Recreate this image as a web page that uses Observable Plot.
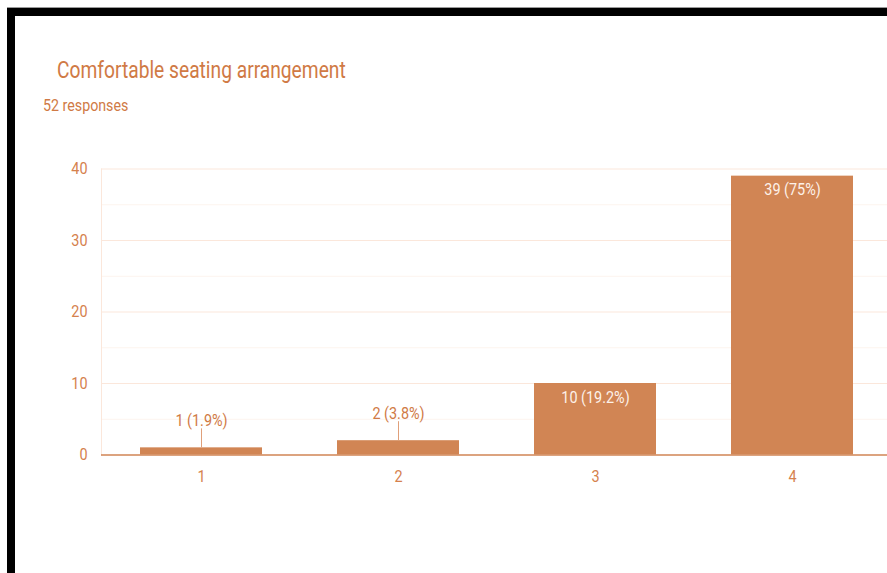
<!DOCTYPE html>
<html>
<head>
<meta charset="utf-8">
<script src="https://cdn.jsdelivr.net/npm/d3@7"></script>
<script src="https://cdn.jsdelivr.net/npm/@observablehq/plot@0.6"></script>
<style>
  html, body { margin: 0; padding: 0; background: #ffffff; overflow: hidden; }
  #wrap { position: relative; width: 887px; height: 573px; overflow: hidden; background: #fff; font-family: Roboto, sans-serif; }
  #wrap svg { position: absolute; left: 0; top: 0; }
  .band { position: absolute; background: #000; }
  .txt { position: absolute; white-space: nowrap; transform-origin: left center; line-height: 1; }
  #title { left: 57px; top: 58.6px; font-size: 23px; color: #d07a45; transform: scaleX(0.835); }
  #subtitle { left: 43px; top: 98.3px; font-size: 16px; color: #d07a45; transform: scaleX(0.89); }
</style>
</head>
<body>
<div id="wrap">
  <div class="band" style="left:7px; top:8px; width:880px; height:8px;"></div>
  <div class="band" style="left:7px; top:8px; width:8px; height:565px;"></div>
  <div class="band" style="left:7px; top:7px; width:880px; height:1px; background:#9a9a9a;"></div>
  <div id="title" class="txt">Comfortable seating arrangement</div>
  <div id="subtitle" class="txt">52 responses</div>
</div>
<script>
const categories = ["1", "2", "3", "4"];
const counts = [1, 2, 10, 39];
const percents = ["1.9%", "3.8%", "19.2%", "75%"];
const yTicks = [0, 10, 20, 30, 40];
const yMinor = [5, 15, 25, 35];

const barColor = "#d18554";
const textColor = "#d07a45";
const tickColor = "#d5814d";
const gridMajor = "#fbe7db";
const gridMinor = "#fdf4ee";
const insideText = "#fdf1e9";
const leaderColor = "#e0a07a";

const data = categories.map((c, i) => ({
  cat: c,
  count: counts[i],
  label: `${counts[i]} (${percents[i]})`
}));

const yTop = 168.5, yBottom = 454.5;
const pxPerUnit = (yBottom - yTop) / 40;
const leaderPx = 19;
const isInside = d => d.count * pxPerUnit > 40;

const chart = Plot.plot({
  width: 887,
  height: 573,
  marginLeft: 101,
  marginRight: 0,
  marginTop: yTop,
  marginBottom: 573 - yBottom,
  style: { fontFamily: "Roboto, sans-serif", fontSize: "16px", background: "transparent", overflow: "visible" },
  x: { domain: categories, range: [102.5, 890.5], paddingInner: 0.38, paddingOuter: 0.19 },
  y: { domain: [0, 40], range: [yBottom, yTop] },
  marks: [
    Plot.ruleY(yMinor, { stroke: gridMinor }),
    Plot.ruleY(yTicks.slice(1), { stroke: gridMajor }),
    Plot.frame({ anchor: "left", stroke: gridMajor }),
    Plot.barY(data, { x: "cat", y: "count", fill: barColor }),
    Plot.ruleY([0], { stroke: barColor, strokeWidth: 1.6 }),
    Plot.ruleX(data.filter(d => !isInside(d)), {
      x: "cat", y1: "count", y2: d => d.count + leaderPx / pxPerUnit, stroke: leaderColor
    }),
    Plot.text(data.filter(d => !isInside(d)), {
      x: "cat", y: "count", text: "label", fill: textColor, dy: -26.5, fontSize: 16
    }),
    Plot.text(data.filter(isInside), {
      x: "cat", y: "count", text: "label", fill: insideText, dy: 14, fontSize: 16
    }),
    Plot.axisY({ ticks: yTicks, tickSize: 0, tickPadding: 14, label: null, fill: tickColor, fontSize: 16 }),
    Plot.axisX({ tickSize: 0, tickPadding: 16, label: null, fill: tickColor, fontSize: 16 })
  ]
});

document.getElementById("wrap").appendChild(chart);

// horizontally condense text to match the reference's narrow lettering
chart.querySelectorAll("text").forEach(t => {
  const L = t.getComputedTextLength();
  if (L > 0) {
    t.setAttribute("textLength", (L * 0.9).toFixed(2));
    t.setAttribute("lengthAdjust", "spacingAndGlyphs");
  }
});
</script>
</body>
</html>
